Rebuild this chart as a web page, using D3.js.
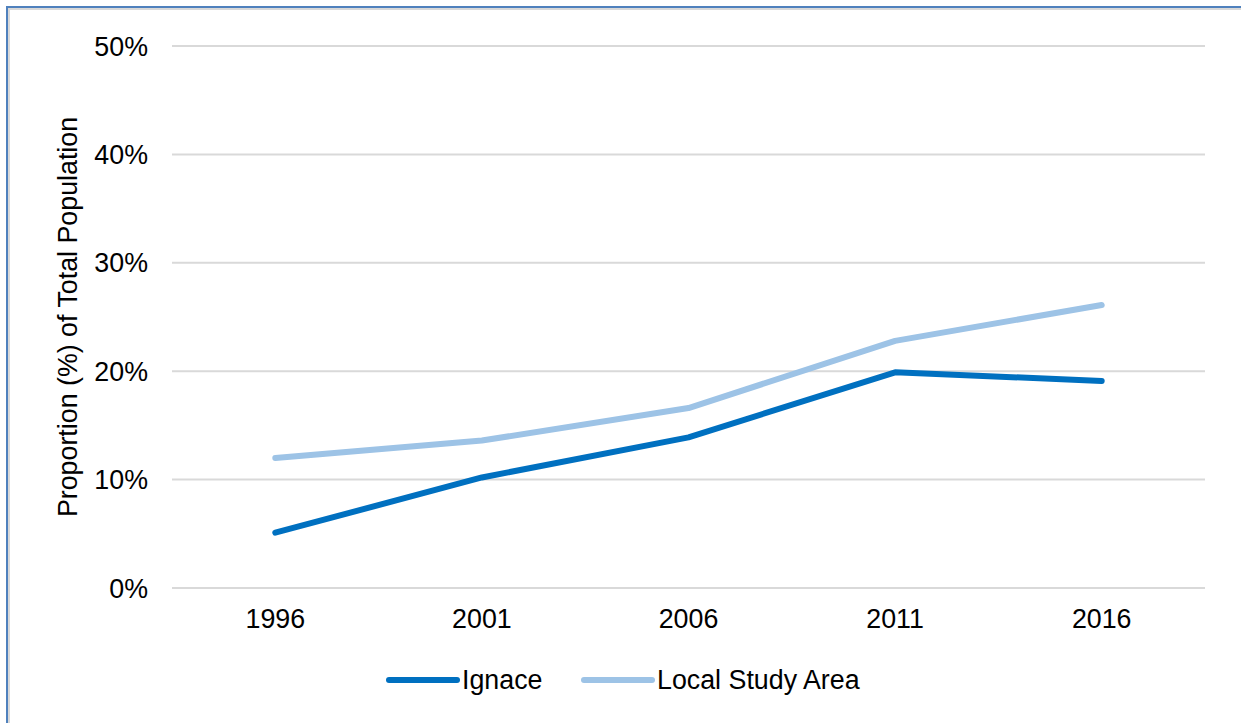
<!DOCTYPE html>
<html><head><meta charset="utf-8">
<script src="https://cdn.jsdelivr.net/npm/d3@7"></script>
<style>body{margin:0;background:#fff}svg{display:block}</style>
</head><body>
<svg id="c" width="1241" height="723"></svg>
<script>
const years = ["1996","2001","2006","2011","2016"];
const ignace = [5.1, 10.2, 13.9, 19.9, 19.1];
const localStudyArea = [12.0, 13.6, 16.6, 22.8, 26.1];
const yTicks = [0, 10, 20, 30, 40, 50];
const seriesNames = ["Ignace", "Local Study Area"];
const seriesColors = ["#0070C0", "#9DC3E6"];

const svg = d3.select("#c");
const font = "'Liberation Sans', Arial, sans-serif";
const fs = 26.8;
// frame
svg.append("rect").attr("x",9).attr("y",9).attr("width",1300).attr("height",800)
  .attr("fill","none").attr("stroke","#D9D9D9").attr("stroke-width",2);
svg.append("path").attr("d","M7,800V7H1300").attr("fill","none").attr("stroke","#4F81BD").attr("stroke-width",2);

const x = d3.scaleBand().domain(years).range([172,1205]);
const y = d3.scaleLinear().domain([0,50]).range([588,46]);

const g = svg.append("g");
g.selectAll("line.grid").data(yTicks).join("line")
  .attr("x1",172).attr("x2",1205).attr("y1",d=>y(d)).attr("y2",d=>y(d))
  .attr("stroke","#D9D9D9").attr("stroke-width",2);

g.selectAll("text.yt").data(yTicks).join("text")
  .attr("x",148).attr("y",d=>y(d)+9.5).attr("text-anchor","end")
  .attr("font-family",font).attr("font-size",fs).attr("fill","#000")
  .text(d=>d+"%");

g.selectAll("text.xt").data(years).join("text")
  .attr("x",d=>x(d)+x.bandwidth()/2).attr("y",628).attr("text-anchor","middle")
  .attr("font-family",font).attr("font-size",fs).attr("fill","#000")
  .text(d=>d);

svg.append("text").attr("transform","translate(77,317) rotate(-90)")
  .attr("text-anchor","middle").attr("font-family",font).attr("font-size",fs)
  .text("Proportion (%) of Total Population");

const line = d3.line().x((d,i)=>x(years[i])+x.bandwidth()/2).y(d=>y(d));
[localStudyArea, ignace].forEach((s,k)=>{
  const idx = k===0?1:0;
  svg.append("path").attr("d",line(s)).attr("fill","none")
    .attr("stroke",seriesColors[idx]).attr("stroke-width",6)
    .attr("stroke-linecap","round").attr("stroke-linejoin","round");
});

// legend
const legX = [389, 584];
seriesNames.forEach((n,i)=>{
  svg.append("line").attr("x1",legX[i]).attr("x2",legX[i]+68).attr("y1",680).attr("y2",680)
    .attr("stroke",seriesColors[i]).attr("stroke-width",6).attr("stroke-linecap","round");
  svg.append("text").attr("x",legX[i]+73).attr("y",689).attr("font-family",font).attr("font-size",fs).text(n);
});
</script>
</body></html>
